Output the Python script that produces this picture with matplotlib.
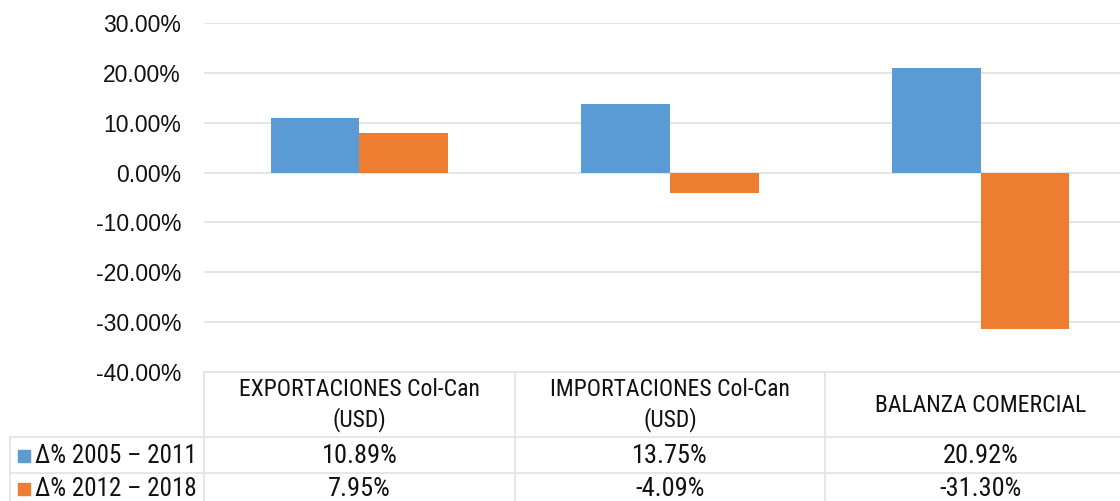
import numpy as np
import matplotlib
matplotlib.use("Agg")
import matplotlib.pyplot as plt
from matplotlib.patches import Rectangle

# datos
categorias = ["EXPORTACIONES Col-Can\n(USD)", "IMPORTACIONES Col-Can\n(USD)", "BALANZA COMERCIAL"]
series = ["Δ% 2005 – 2011", "Δ% 2012 – 2018"]
v_2005_2011 = [10.89, 13.75, 20.92]
v_2012_2018 = [7.95, -4.09, -31.30]
colores = ["#5B9BD5", "#ED7D31"]
yticks = [30, 20, 10, 0, -10, -20, -30, -40]

W, H = 1120, 501
fig = plt.figure(figsize=(W / 100, H / 100), dpi=100)

def fx(px):
    return px / W

def fy(py):
    return 1 - py / H

# eje principal (se sale un poco por la derecha, como en el original)
ax_left, ax_right, ax_top, ax_bot = 204, 1136, 23, 372
ax = fig.add_axes([fx(ax_left), fy(ax_bot), fx(ax_right - ax_left), (ax_bot - ax_top) / H])

x = np.arange(len(categorias))
bw = 0.285
ax.bar(x - bw / 2, v_2005_2011, bw, color=colores[0], zorder=3)
ax.bar(x + bw / 2, v_2012_2018, bw, color=colores[1], zorder=3)
ax.set_xlim(-0.5, len(categorias) - 0.5)
ax.set_ylim(-40, 30)
ax.set_yticks(yticks)
ax.set_yticklabels([f"{t:.2f}%" for t in yticks], fontsize=16.5,
                   family="Liberation Sans", color="#111111")
ax.tick_params(axis="y", length=0, pad=16.5)
ax.set_xticks([])
ax.grid(axis="y", color="#e0e0e0", linewidth=1.2, zorder=0)
for s in ax.spines.values():
    s.set_visible(False)

# tabla de datos
ov = fig.add_axes([0, 0, 1, 1])
ov.set_xlim(0, W)
ov.set_ylim(H, 0)
ov.axis("off")
gris = "#e3e3e3"
catw = (ax_right - ax_left) / len(categorias)
bordes = [ax_left + i * catw for i in range(len(categorias))]
fila_h = [372, 437, 473]
ov.plot([ax_left, W], [fila_h[0]] * 2, color=gris, lw=1.2)
for yy in fila_h[1:]:
    ov.plot([10, W], [yy] * 2, color=gris, lw=1.2)
ov.plot([10, 10], [fila_h[1], H], color=gris, lw=1.2)
for bx in bordes:
    ov.plot([bx, bx], [fila_h[0], H], color=gris, lw=1.2)

fuente = ["Roboto Condensed", "Archivo Narrow", "DejaVu Sans"]
negro = "#111111"
for i, cat in enumerate(categorias):
    cx = ax_left + (i + 0.5) * catw
    ov.text(cx, 405, cat, ha="center", va="center", fontsize=17, family=fuente,
            linespacing=1.35, color=negro)
    ov.text(cx, 456, f"{v_2005_2011[i]:.2f}%", ha="center", va="center",
            fontsize=19, family=fuente, color=negro)
    ov.text(cx, 489, f"{v_2012_2018[i]:.2f}%", ha="center", va="center",
            fontsize=19, family=fuente, color=negro)

for j, (nombre, yc) in enumerate(zip(series, [456, 489])):
    ov.add_patch(Rectangle((18, yc - 6), 12, 12, color=colores[j]))
    ov.text(35, yc, nombre, ha="left", va="center", fontsize=18, family=fuente,
            color=negro)

fig.savefig("out.png", dpi=100)
